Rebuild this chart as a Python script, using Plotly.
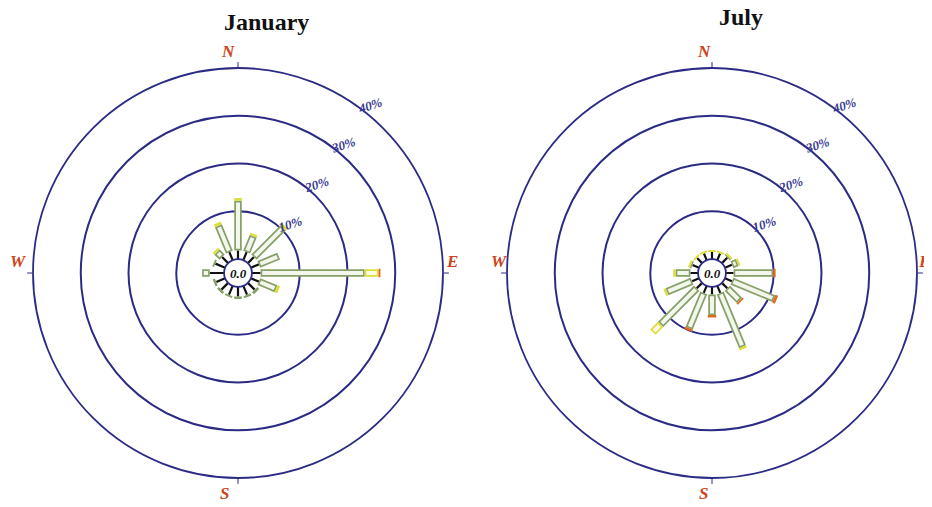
import plotly.graph_objects as go

directions = ["N", "NNE", "NE", "ENE", "E", "ESE", "SE", "SSE",
              "S", "SSW", "SW", "WSW", "W", "WNW", "NW", "NNW"]
compass_labels = ["N", "E", "S", "W"]
compass_angles = [0, 90, 180, 270]
radial_ticks = [0, 10, 20, 30, 40]
radial_ticktext = ["", "10%", "20%", "30%", "40%"]
titles = ["January", "July"]

# frequency (%) per speed class, per direction
jan_class1 = [1.8, 1.8, 1.8, 1.8, 1.8, 1.8, 2.0, 2.0, 2.0, 2.0, 2.0, 2.0, 3.0, 2.2, 1.8, 1.8]
jan_class2 = [10.4, 3.6, 8.6, 4.5, 21.8, 3.9, 0.6, 0.5, 0.5, 0.4, 0.5, 0.5, 1.6, 0.4, 1.5, 6.0]
jan_class3 = [0.6, 0.5, 0.6, 0.0, 2.9, 0.6, 0.0, 0.0, 0.0, 0.0, 0.0, 0.0, 0.0, 0.0, 0.5, 0.6]
jan_class4 = [0.0, 0.0, 0.0, 0.0, 0.4, 0.0, 0.0, 0.0, 0.0, 0.0, 0.0, 0.0, 0.0, 0.0, 0.0, 0.0]

jul_class1 = [1.5, 1.5, 1.6, 1.6, 1.6, 1.6, 1.6, 1.6, 1.6, 1.6, 1.6, 1.6, 1.6, 1.5, 1.5, 1.5]
jul_class2 = [0.0, 0.0, 0.3, 1.2, 8.3, 9.5, 3.6, 12.2, 4.3, 8.0, 10.7, 5.7, 3.1, 0.3, 0.0, 0.0]
jul_class3 = [0.4, 0.4, 0.4, 0.4, 0.0, 0.0, 0.0, 0.5, 0.0, 0.0, 2.3, 0.5, 0.5, 0.4, 0.4, 0.4]
jul_class4 = [0.0, 0.0, 0.0, 0.0, 0.5, 0.6, 0.4, 0.0, 0.5, 0.5, 0.0, 0.0, 0.0, 0.0, 0.0, 0.0]

theta = [i * 360 / len(directions) for i in range(len(directions))]

NAVY = "#2b2b86"
LABEL = "#3a3a92"
RED = "#cc4420"
SERIF = "Liberation Serif, Times New Roman, serif"


def segments(starts, lengths, shrink=0.0):
    r, t = [], []
    for s, ln, th in zip(starts, lengths, theta):
        if ln <= 0:
            continue
        a, b = s + shrink, s + ln - shrink
        if b - a <= 0.05:
            continue
        r += [a, b, None]
        t += [th, th, None]
    return r, t


def rose_traces(c1, c2, c3, c4, subplot):
    s2 = c1
    s3 = [a + b for a, b in zip(c1, c2)]
    s4 = [a + b for a, b in zip(s3, c3)]
    zero = [0.0] * len(c1)
    specs = [
        (zero, c1, 0.0, "#111111", 2.2),
        (s2, c2, 0.0, "#86a068", 7.5),
        (s2, c2, 0.35, "#f3f6ec", 4),
        (s3, c3, 0.0, "#dede3a", 7.5),
        (s3, c3, 0.35, "#fbfbe8", 4),
        (s4, c4, 0.0, "#e06a22", 8.5),
    ]
    out = []
    for st, ln, sh, col, w in specs:
        r, t = segments(st, ln, sh)
        out.append(go.Scatterpolar(r=r, theta=t, mode="lines", connectgaps=False,
                                   line=dict(color=col, width=w), hoverinfo="skip",
                                   showlegend=False, subplot=subplot))
    return out


fig = go.Figure()
for tr in rose_traces(jan_class1, jan_class2, jan_class3, jan_class4, "polar"):
    fig.add_trace(tr)
for tr in rose_traces(jul_class1, jul_class2, jul_class3, jul_class4, "polar2"):
    fig.add_trace(tr)

# the page body has an 8px margin: size the figure so it fits the 932x507 window
OFF = 8
W, H = 932 - OFF, 507 - OFF


def px(x):
    return (x - OFF) / W


def py(y):
    return 1 - (y - OFF) / H


ydom = [py(478), py(68)]
doms = [[px(33), px(443)], [px(507), px(917)]]


def polar_layout(xdom):
    return dict(
        domain=dict(x=xdom, y=ydom),
        bgcolor="white",
        hole=0.068,
        radialaxis=dict(range=[0, 40], tickvals=radial_ticks, ticktext=radial_ticktext,
                        showline=False, ticks="", angle=56, tickangle=38,
                        gridcolor=NAVY, gridwidth=1.8,
                        tickfont=dict(family=SERIF, size=13, color=LABEL, weight="bold",
                                      style="italic")),
        angularaxis=dict(direction="clockwise", rotation=90, tickvals=compass_angles,
                         ticktext=["", "", "", ""], showgrid=False, showline=True,
                         linecolor=NAVY, linewidth=1.8, ticks="outside", ticklen=5,
                         tickcolor=NAVY),
    )


annotations = []
for i, xd in enumerate(doms):
    cx = (xd[0] + xd[1]) / 2
    cy = (ydom[0] + ydom[1]) / 2
    annotations.append(dict(x=cx, y=cy, xref="paper", yref="paper", text="0.0",
                            showarrow=False, xanchor="center", yanchor="middle",
                            font=dict(family=SERIF, size=13, color="#111111",
                                      weight="bold", style="italic")))

# compass letter positions (reference pixels)
compass_pos = [
    [(228, 52), (452, 262), (224, 493), (18, 262)],
    [(704, 52), (924, 262), (703, 493), (500, 262)],
]
for pos in compass_pos:
    for lab, (x, y) in zip(compass_labels, pos):
        annotations.append(dict(x=px(x), y=py(y), xref="paper", yref="paper", text=lab,
                                showarrow=False, xanchor="center", yanchor="middle",
                                font=dict(family=SERIF, size=17, color=RED,
                                          weight="bold", style="italic")))

title_x = [px(266), px(741)]
title_y = [py(22), py(17)]
for i, ttl in enumerate(titles):
    annotations.append(dict(x=title_x[i], y=title_y[i], xref="paper", yref="paper",
                            text="<b>%s</b>" % ttl, showarrow=False,
                            xanchor="center", yanchor="middle",
                            font=dict(family=SERIF, size=24, color="#111111")))

fig.update_layout(
    width=W, height=H,
    margin=dict(l=0, r=0, t=0, b=0),
    paper_bgcolor="white",
    showlegend=False,
    polar=polar_layout(doms[0]),
    polar2=polar_layout(doms[1]),
    annotations=annotations,
)

fig.write_html("out.html")
